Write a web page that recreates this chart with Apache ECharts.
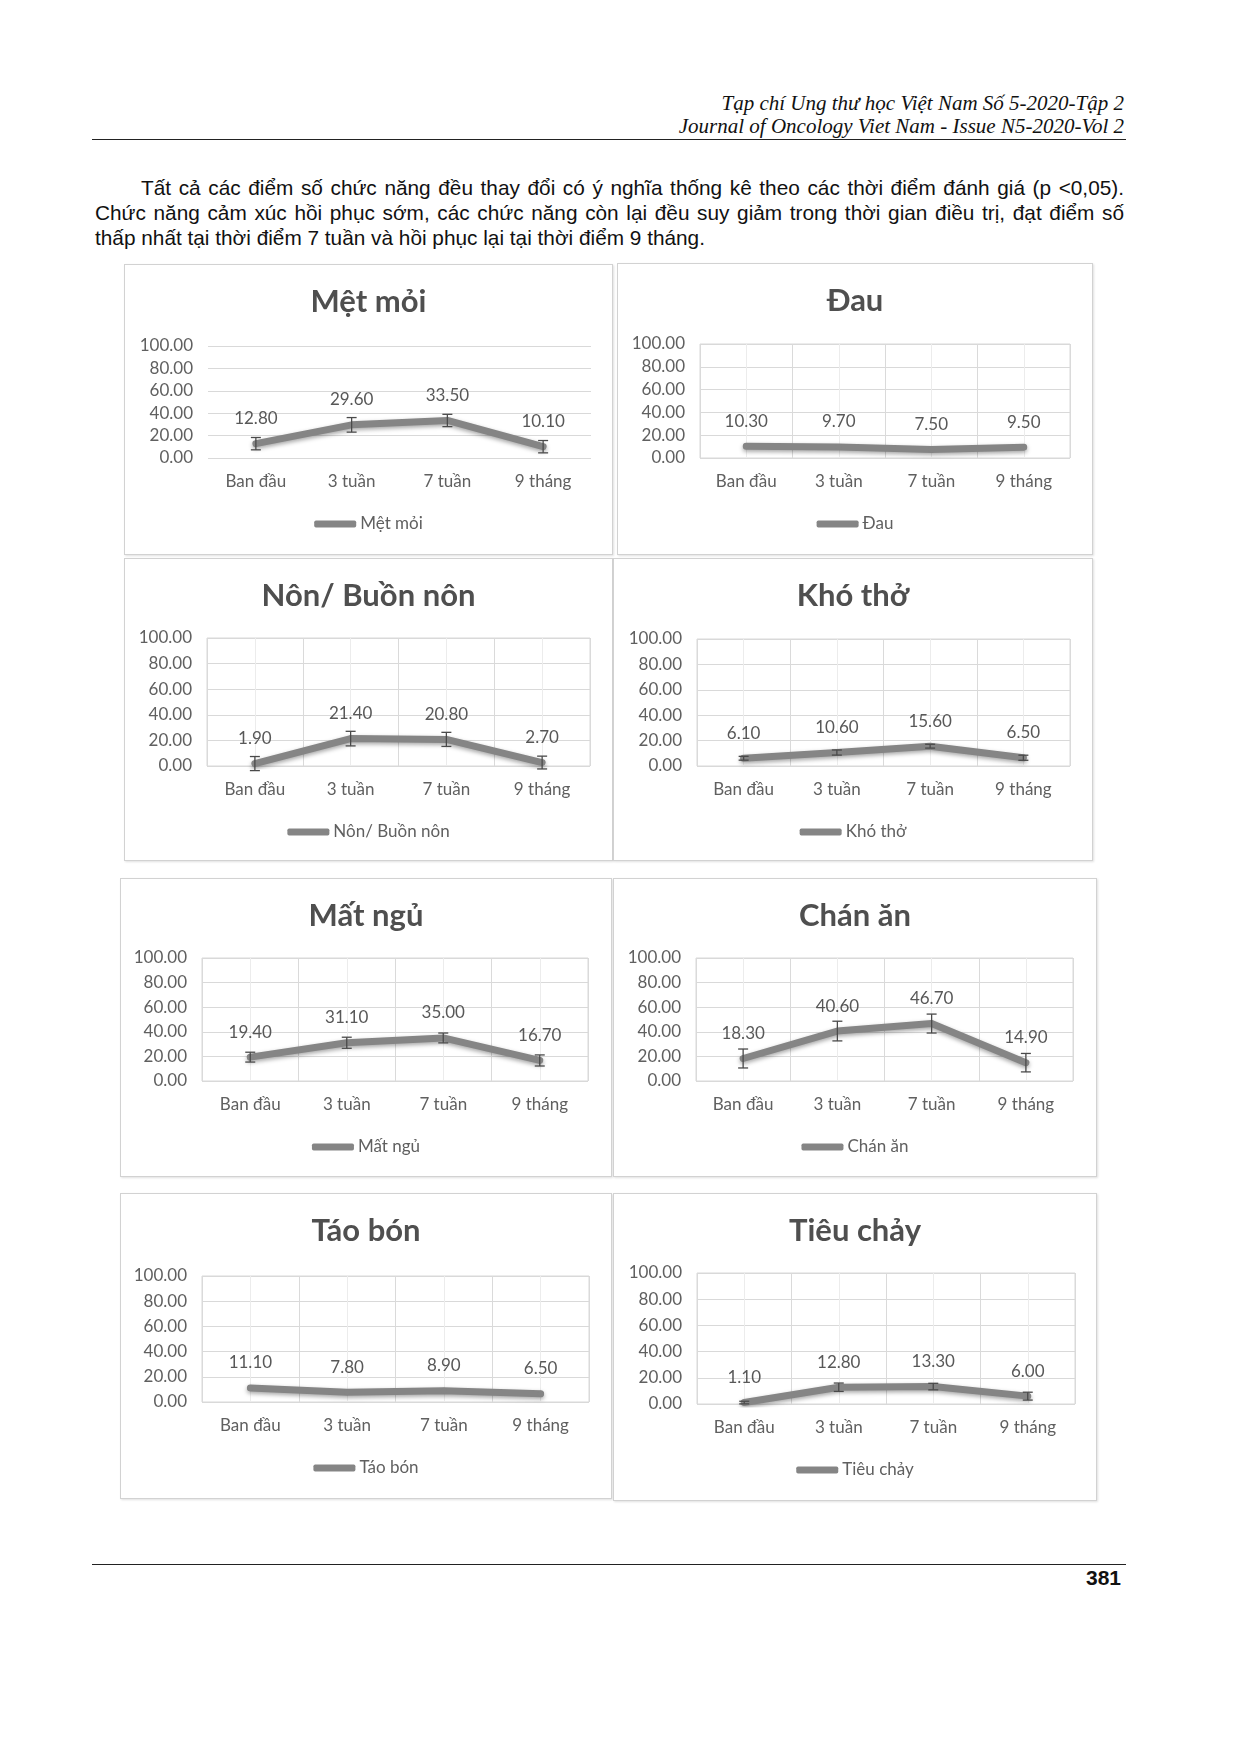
<!DOCTYPE html>
<html><head><meta charset="utf-8">
<script src="https://cdn.jsdelivr.net/npm/echarts@6/dist/echarts.min.js"></script>
<style>
html,body{margin:0;padding:0;background:#fff;}
body{width:1240px;height:1753px;position:relative;overflow:hidden;}
.hdr{position:absolute;right:116px;font-family:"Liberation Serif","Times New Roman",serif;font-style:italic;font-size:21px;color:#111;white-space:nowrap;line-height:24px;}
.rule{position:absolute;left:92px;width:1034px;height:0;border-top:1.5px solid #222;}
.pl{position:absolute;font-family:"Liberation Sans",Arial,sans-serif;font-size:20.8px;color:#111;line-height:25px;white-space:nowrap;}
.just{text-align:justify;text-align-last:justify;white-space:normal;}
.pnum{position:absolute;right:119px;top:1566px;font-family:"Liberation Sans Narrow","Liberation Sans",Arial,sans-serif;font-weight:bold;font-size:21px;color:#111;line-height:24px;}
.panel{position:absolute;border:1px solid #d2d2d2;box-shadow:1px 1px 2px rgba(0,0,0,0.12);background:#fff;box-sizing:border-box;}
.panel > div{position:absolute;left:0;top:0;}
</style>
</head><body>
<div class="hdr" style="top:91px">Tạp chí Ung thư học Việt Nam Số 5-2020-Tập 2</div>
<div class="hdr" style="top:114px">Journal of Oncology Viet Nam - Issue N5-2020-Vol 2</div>
<div class="rule" style="top:139px"></div>
<div class="pl just" style="left:141px;width:983px;top:175px">Tất cả các điểm số chức năng đều thay đổi có ý nghĩa thống kê theo các thời điểm đánh giá (p &lt;0,05).</div>
<div class="pl just" style="left:95px;width:1029px;top:200px">Chức năng cảm xúc hồi phục sớm, các chức năng còn lại đều suy giảm trong thời gian điều trị, đạt điểm số</div>
<div class="pl" style="left:95px;top:225px">thấp nhất tại thời điểm 7 tuần và hồi phục lại tại thời điểm 9 tháng.</div>
<div class="rule" style="top:1564px"></div>
<div class="pnum">381</div>
<div id="wrap"></div>
<script>
// ---- data ----
const categories = ['Ban đầu', '3 tuần', '7 tuần', '9 tháng'];
const yTicks = [0, 20, 40, 60, 80, 100];

const names = ['Mệt mỏi', 'Đau', 'Nôn/ Buồn nôn', 'Khó thở', 'Mất ngủ', 'Chán ăn', 'Táo bón', 'Tiêu chảy'];

const metMoi   = [12.8, 29.6, 33.5, 10.1];
const dau      = [10.3, 9.7, 7.5, 9.5];
const nonBuonNon = [1.9, 21.4, 20.8, 2.7];
const khoTho   = [6.1, 10.6, 15.6, 6.5];
const matNgu   = [19.4, 31.1, 35.0, 16.7];
const chanAn   = [18.3, 40.6, 46.7, 14.9];
const taoBon   = [11.1, 7.8, 8.9, 6.5];
const tieuChay = [1.1, 12.8, 13.3, 6.0];

// error bar half-widths (estimated)
const errMetMoi   = [5.5, 6.5, 5.5, 5.5];
const errDau      = [0, 0, 0, 0];
const errNon      = [5.5, 5.7, 5.5, 5.0];
const errKhoTho   = [1.5, 2.0, 1.5, 2.0];
const errMatNgu   = [4.0, 4.5, 4.0, 4.5];
const errChanAn   = [7.7, 8.0, 7.7, 7.5];
const errTaoBon   = [0, 0, 0, 0];
const errTieuChay = [1.0, 3.2, 2.5, 3.0];

const seriesValues = [metMoi, dau, nonBuonNon, khoTho, matNgu, chanAn, taoBon, tieuChay];
const seriesErrors = [errMetMoi, errDau, errNon, errKhoTho, errMatNgu, errChanAn, errTaoBon, errTieuChay];

// ---- layout (page pixels) ----
const panels = [
  {x:124, y:264, w:489, h:291, pl:208, pt:346, pr:591, pb:458, box:false},
  {x:617, y:263, w:476, h:292, pl:700, pt:344, pr:1070, pb:458, box:true},
  {x:124, y:558, w:489, h:303, pl:207, pt:638, pr:590, pb:766, box:true},
  {x:613, y:558, w:480, h:303, pl:697, pt:639, pr:1070, pb:766, box:true},
  {x:120, y:878, w:492, h:299, pl:202, pt:958, pr:588, pb:1081, box:true},
  {x:613, y:878, w:484, h:299, pl:696, pt:958, pr:1073, pb:1081, box:true},
  {x:120, y:1193, w:492, h:306, pl:202, pt:1276, pr:589, pb:1402, box:true},
  {x:613, y:1193, w:484, h:308, pl:697, pt:1273, pr:1075, pb:1404, box:true}
];

const F = 'Lato, "Noto Sans", "Open Sans", sans-serif';
const LINE = '#858585';
const TXT = '#606060';

function buildOption(i) {
  const p = panels[i];
  const gl = p.pl - p.x - 1, gt = p.pt - p.y - 1, gw = p.pr - p.pl, gh = p.pb - p.pt;
  const vals = seriesValues[i], errs = seriesErrors[i];
  return {
    animation: false,
    title: {
      text: names[i], left: 'center', top: 37 - 18, padding: 0,
      textStyle: {fontFamily: F, fontSize: 31, fontWeight: 'bold', color: '#4f4f4f', lineHeight: 36}
    },
    legend: {
      data: [names[i]], left: 'center', top: gt + gh + 66 - 10, padding: 0,
      icon: 'roundRect', itemWidth: 42, itemHeight: 7,
      itemStyle: {color: LINE},
      textStyle: {fontFamily: F, fontSize: 17, color: TXT, lineHeight: 20, padding: [0, 0, 0, -1]}
    },
    grid: {left: gl, top: gt, width: gw, height: gh, show: p.box, borderColor: '#d9d9d9', borderWidth: 1, containLabel: false},
    xAxis: [
      {type: 'category', data: categories, boundaryGap: true,
       axisLine: {show: false}, axisTick: {show: false}, splitLine: {show: false},
       axisLabel: {margin: 15, fontFamily: F, fontSize: 17, color: TXT}},
      {type: 'value', min: 0, max: 8, interval: 1, position: 'bottom',
       axisLabel: {show: false}, axisLine: {show: false}, axisTick: {show: false},
       splitLine: {show: p.box, lineStyle: {color: ['#dadada', '#ececec'], width: 1}}}
    ],
    yAxis: {
      type: 'value', min: yTicks[0], max: yTicks[yTicks.length - 1], interval: yTicks[1] - yTicks[0],
      axisLine: {show: false}, axisTick: {show: false},
      axisLabel: {margin: 15, fontFamily: F, fontSize: 17, color: TXT, formatter: v => v.toFixed(2)},
      splitLine: {show: true, lineStyle: {color: '#d9d9d9', width: 1}}
    },
    series: [
      {
        type: 'line', name: names[i], data: vals, xAxisIndex: 0,
        symbol: 'circle', symbolSize: 6, itemStyle: {color: LINE},
        lineStyle: {color: LINE, width: 7, cap: 'round', join: 'round',
                    shadowColor: 'rgba(0,0,0,0.35)', shadowBlur: 4, shadowOffsetY: 2},
        label: {show: true, position: 'inside', offset: [0, -25], fontFamily: F, fontSize: 17, color: '#585858',
                formatter: q => q.value.toFixed(2)},
        emphasis: {disabled: true}, z: 2
      },
      {
        type: 'custom', name: 'err', xAxisIndex: 0, z: 5,
        data: vals.map((v, k) => [k, v, errs[k]]),
        renderItem: (params, api) => {
          const x = api.value(0), y = api.value(1), e = api.value(2);
          if (!e) return null;
          const t = api.coord([x, y + e]), b = api.coord([x, y - e]);
          const cw = 5, st = {stroke: '#4a4a4a', lineWidth: 1.3};
          return {type: 'group', children: [
            {type: 'line', shape: {x1: t[0], y1: t[1], x2: b[0], y2: b[1]}, style: st},
            {type: 'line', shape: {x1: t[0] - cw, y1: t[1], x2: t[0] + cw, y2: t[1]}, style: st},
            {type: 'line', shape: {x1: b[0] - cw, y1: b[1], x2: b[0] + cw, y2: b[1]}, style: st}
          ]};
        }
      }
    ]
  };
}

const wrap = document.getElementById('wrap');
panels.forEach((p, i) => {
  const pd = document.createElement('div');
  pd.className = 'panel';
  pd.style.left = p.x + 'px'; pd.style.top = p.y + 'px';
  pd.style.width = p.w + 'px'; pd.style.height = p.h + 'px';
  const cd = document.createElement('div');
  cd.style.width = (p.w - 2) + 'px'; cd.style.height = (p.h - 2) + 'px';
  pd.appendChild(cd);
  wrap.appendChild(pd);
  const ch = echarts.init(cd, null, {renderer: 'canvas'});
  ch.setOption(buildOption(i));
});
</script>
</body></html>
